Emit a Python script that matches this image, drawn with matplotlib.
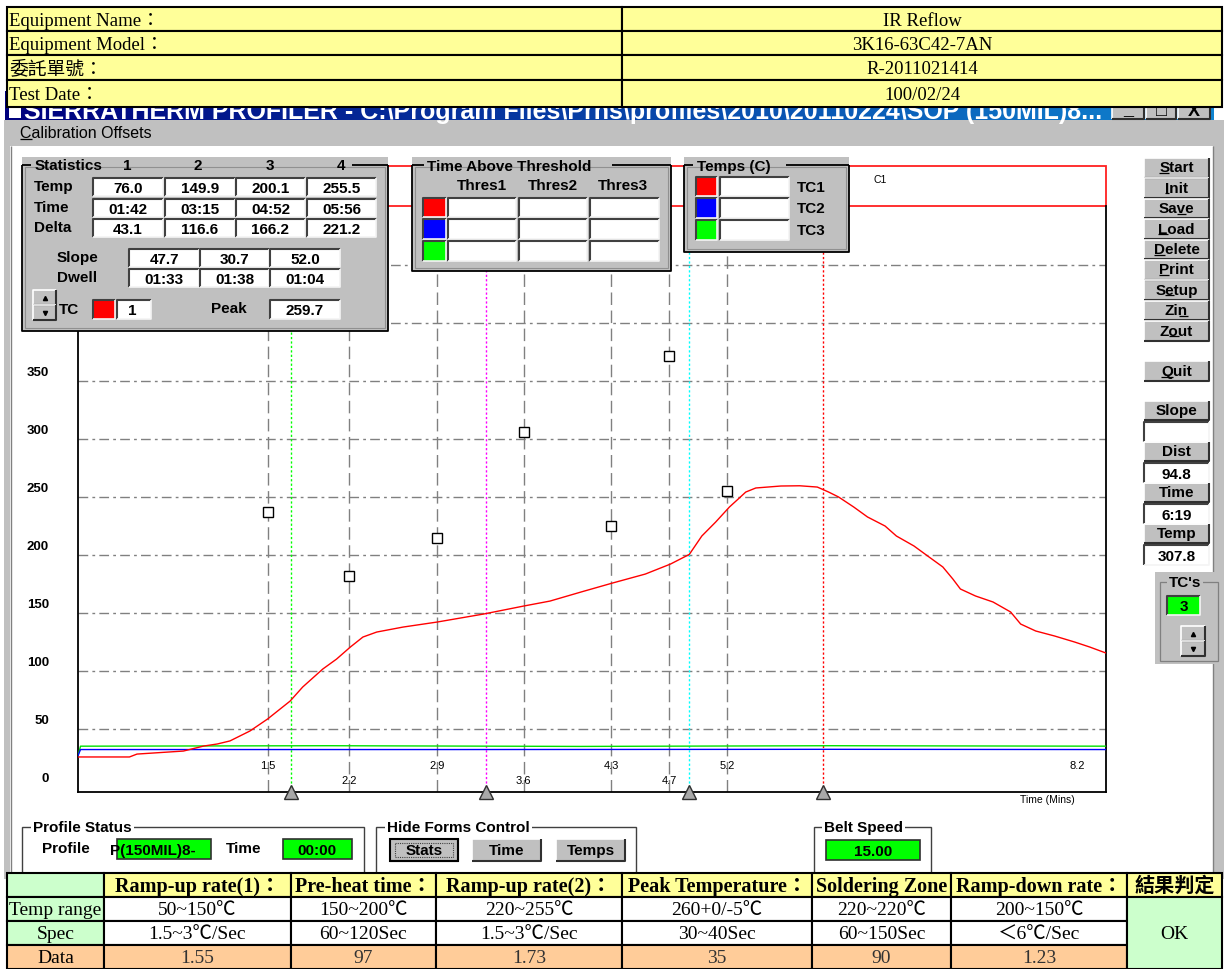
import matplotlib
matplotlib.use("Agg")
import numpy as np
import matplotlib.pyplot as plt
from matplotlib.patches import Rectangle
from matplotlib.colors import LinearSegmentedColormap
from matplotlib.transforms import offset_copy

SANS = ["Liberation Sans", "DejaVu Sans"]
SERIF = ["Liberation Serif", "Noto Sans CJK TC", "DejaVu Sans"]
GRAY = "#c0c0c0"
UI = 11

# ---------------- data ----------------
# TC1 profile (minutes, deg C)
tc1_time = [0.00, 0.41, 0.47, 0.84, 1.00, 1.11, 1.21, 1.37, 1.51, 1.69,
            1.79, 1.95, 2.06, 2.17, 2.27, 2.38, 2.59, 2.86, 3.23, 3.55,
            3.76, 4.02, 4.26, 4.52, 4.72, 4.87, 4.97, 5.08, 5.19, 5.26,
            5.32, 5.40, 5.60, 5.75, 5.89, 5.98, 6.06, 6.18, 6.29, 6.43,
            6.52, 6.66, 6.77, 6.89, 6.97, 7.03, 7.15, 7.29, 7.43, 7.51,
            7.63, 7.78, 7.94, 8.06, 8.19]
tc1_temp = [25.9, 25.9, 28.4, 31.0, 35.3, 37.1, 39.7, 48.3, 58.6, 74.1,
            86.2, 101.7, 110.3, 120.7, 129.3, 133.6, 137.9, 142.2, 149.1, 156.0,
            160.3, 168.5, 175.9, 183.6, 192.2, 200.5, 216.4, 228.4, 241.4, 248.3,
            254.3, 257.8, 259.5, 259.7, 258.6, 254.3, 250.0, 241.4, 232.8, 225.0,
            216.4, 207.8, 199.1, 189.7, 179.3, 170.7, 164.7, 159.5, 150.9, 140.5,
            134.5, 130.2, 125.0, 120.7, 115.5]
tc2_time = [0.0, 0.02, 3.0, 6.0, 8.19]
tc2_temp = [27.0, 32.3, 32.3, 32.5, 32.3]
tc3_time = [0.0, 0.02, 2.0, 4.0, 6.0, 8.19]
tc3_temp = [27.0, 35.2, 35.6, 35.0, 35.6, 35.2]

zone_times = [1.51, 2.16, 2.86, 3.55, 4.25, 4.71, 5.17]
zone_labels = ["1.5", "2.2", "2.9", "3.6", "4.3", "4.7", "5.2"]
zone_setpoints = [237, 182, 215, 306, 225, 372, 255]
end_time, end_label = 7.96, "8.2"

temp_ticks = [0, 50, 100, 150, 200, 250, 300, 350, 400, 450]
grid_levels = [50, 100, 150, 200, 250, 300, 350, 400, 450]

stat_temp = ["76.0", "149.9", "200.1", "255.5"]
stat_time = ["01:42", "03:15", "04:52", "05:56"]
stat_delta = ["43.1", "116.6", "166.2", "221.2"]
stat_slope = ["47.7", "30.7", "52.0"]
stat_dwell = ["01:33", "01:38", "01:04"]
stat_colors = ["#00ff00", "#ff00ff", "#00ffff", "#ff0000"]
peak_temp = "259.7"
tc_colors = ["#ff0000", "#0000ff", "#00ff00"]

info_labels = ["Equipment Name：", "Equipment Model：", "委託單號：", "Test Date："]
info_values = ["IR Reflow", "3K16-63C42-7AN", "R-2011021414", "100/02/24"]

spec_headers = ["Ramp-up rate(1)：", "Pre-heat time：", "Ramp-up rate(2)：",
                "Peak Temperature：", "Soldering Zone", "Ramp-down rate："]
spec_range = ["50~150℃", "150~200℃", "220~255℃", "260+0/-5℃", "220~220℃", "200~150℃"]
spec_limit = ["1.5~3℃/Sec", "60~120Sec", "1.5~3℃/Sec", "30~40Sec", "60~150Sec", "＜6℃/Sec"]
spec_data = ["1.55", "97", "1.73", "35", "90", "1.23"]
verdict = "OK"

side_buttons = [("", "S", "tart"), ("", "I", "nit"), ("Sa", "v", "e"), ("", "L", "oad"),
                ("", "D", "elete"), ("", "P", "rint"), ("S", "e", "tup"), ("Zi", "n", ""),
                ("Z", "o", "ut")]
readouts = [("Slope", ""), ("Dist", "94.8"), ("Time", "6:19"), ("Temp", "307.8")]


def minutes(s):
    m, sec = s.split(":")
    return int(m) + int(sec) / 60


# ---------------- figure / axes ----------------
W, H = 1224, 970
fig = plt.figure(figsize=(W / 100, H / 100), dpi=100, facecolor="white")
renderer = fig.canvas.get_renderer()


def pixel_axes(z):
    a = fig.add_axes([0, 0, 1, 1])
    a.set_xlim(0, W)
    a.set_ylim(H, 0)
    a.axis("off")
    a.set_zorder(z)
    return a


bg = pixel_axes(0)
ax = fig.add_axes([78 / W, 1 - 793 / H, (1106 - 78) / W, (793 - 207) / H])
ax.set_zorder(1)
ax.set_facecolor("none")
fg = pixel_axes(2)


def rect(a, x0, y0, x1, y1, fc="none", ec="none", lw=1.0, z=2):
    p = Rectangle((x0, y0), x1 - x0, y1 - y0, facecolor=fc, edgecolor=ec, linewidth=lw, zorder=z)
    a.add_patch(p)
    return p


def line(a, xs, ys, c, lw=1.0, z=3, **kw):
    a.plot(xs, ys, color=c, lw=lw, zorder=z, solid_capstyle="butt", **kw)


def txt(a, x, y, s, size=UI, ha="center", weight="bold", color="black", family=SANS, z=6):
    return a.text(x, y, s, ha=ha, va="center", fontsize=size, fontweight=weight,
                  color=color, family=family, zorder=z)


def width(s, size, weight):
    t = fig.text(0, 0, s, fontsize=size, fontweight=weight, family=SANS)
    w = t.get_window_extent(renderer=renderer).width
    t.remove()
    return w


def utxt(a, x, y, pre, ch, post, size=UI, ha="center", weight="bold"):
    full = pre + ch + post
    txt(a, x, y, full, size, ha, weight)
    wf = width(full, size, weight)
    wp = width(pre, size, weight) if pre else 0
    wc = width(pre + ch, size, weight)
    left = x - wf / 2 if ha == "center" else x
    line(a, [left + wp, left + wc], [y + 5.5, y + 5.5], "black", 0.9, 7)


def sunken(a, x0, y0, x1, y1, fc="white", z=3):
    rect(a, x0, y0, x1, y1, fc=fc, z=z)
    line(a, [x0, x0, x1], [y1, y0, y0], "#404040", 1.5, z + 0.1)
    line(a, [x0, x1, x1], [y1, y1, y0], "#f4f4f4", 1.2, z + 0.1)


def raised(a, x0, y0, x1, y1, fc=GRAY, z=3):
    rect(a, x0, y0, x1, y1, fc=fc, z=z)
    line(a, [x0, x0, x1], [y1, y0, y0], "#ffffff", 1.2, z + 0.1)
    line(a, [x0, x1, x1], [y1, y1, y0], "#303030", 1.5, z + 0.1)


def panel(a, x0, y0, x1, y1, gap0, gap1):
    rect(a, x0, y0, x1, y1, fc=GRAY, z=1)
    top = y0 + 8
    line(a, [x0, x0, x1, x1], [top, y1, y1, top], "black", 1.3, 2)
    line(a, [x0, gap0], [top, top], "black", 1.3, 2)
    line(a, [gap1, x1], [top, top], "black", 1.3, 2)
    rect(a, x0 + 3, top + 2, x1 - 3, y1 - 3, ec="#909090", lw=0.8, z=1.5)


def group(a, x0, y0, x1, y1, title, tx, fc="white"):
    rect(a, x0, y0, x1, y1, ec="#404040", lw=1.0, z=2)
    a.text(tx, y0, title, ha="left", va="center", fontsize=UI, fontweight="bold", family=SANS,
           zorder=4, bbox=dict(boxstyle="square,pad=0.15", fc=fc, ec="none"))


def spinner(a, x0, y0, x1, y1):
    ym = (y0 + y1) / 2
    raised(a, x0, y0, x1, ym, z=4)
    raised(a, x0, ym, x1, y1, z=4)
    a.plot([(x0 + x1) / 2], [(y0 + ym) / 2], marker="^", ms=3, color="black", zorder=6)
    a.plot([(x0 + x1) / 2], [(ym + y1) / 2], marker="v", ms=3, color="black", zorder=6)


def cell(a, x0, y0, x1, y1, fc, text="", ha="center", weight="normal", size=14, color="black"):
    r = rect(a, x0, y0, x1, y1, fc=fc, ec="black", lw=1.5, z=8)
    if text:
        tx = (x0 + x1) / 2 if ha == "center" else x0 + 2
        t = a.text(tx, (y0 + y1) / 2 + 1, text, ha=ha, va="center", fontsize=size, fontweight=weight,
                   family=SERIF, color=color, zorder=9)
        t.set_clip_path(r)


# ---------------- window chrome ----------------
grad = LinearSegmentedColormap.from_list("title", ["#00007e", "#1084d0"])
bg.imshow(np.linspace(0, 1, 256).reshape(1, -1), cmap=grad, extent=(5, 1214, 121, 92), aspect="auto", zorder=1)
bg.set_xlim(0, W)
bg.set_ylim(H, 0)
tb = rect(bg, 5, 92, 1214, 121, z=0.5)
title = bg.text(24, 119, "SIERRATHERM PROFILER - C:\\Program Files\\Prns\\profiles\\2010\\20110224\\SOP (150MIL)8...",
                color="white", fontsize=18, fontweight="bold", family=SANS, va="baseline", zorder=2)
title.set_clip_path(tb)
rect(bg, 9, 100, 21, 119, fc="white", z=2)
for x0, x1, sym in [(1112, 1144, "_"), (1146, 1176, "□"), (1178, 1210, "X")]:
    raised(bg, x0, 97, x1, 120, z=3)
    txt(bg, (x0 + x1) / 2, 111, sym, 13, z=4)
rect(bg, 5, 121, 1214, 147, fc=GRAY, z=1)
utxt(bg, 20, 134, "", "C", "alibration Offsets", size=11.5, ha="left", weight="normal")
rect(bg, 4, 121, 10, 880, fc=GRAY, z=1)
line(bg, [11, 11], [147, 880], "#808080", 1.0, 2)
rect(bg, 1213, 121, 1224, 880, fc=GRAY, z=1)
line(bg, [1213, 1213], [147, 880], "#808080", 1.0, 2)

# C1 legend strip over the plot
rect(bg, 78, 167, 1106, 207, fc="white", ec="#ff2020", lw=1.3, z=2)
txt(bg, 880, 180, "C1", 7.5, weight="normal")
txt(bg, 1047, 800, "Time (Mins)", 7.5, weight="normal")

# ---------------- plot ----------------
ax.set_xlim(0, 8.19)
ax.set_ylim(-4.3, 500.9)
ax.set_xticks([])
ax.set_yticks([])
ax.spines["top"].set_visible(False)
for s in ["left", "bottom", "right"]:
    ax.spines[s].set_linewidth(1.3)

for v in grid_levels:
    ax.axhline(v, color="#808080", lw=1.0, ls=(0, (7, 3, 2, 3)), zorder=1)
for t in zone_times:
    ax.axvline(t, color="#808080", lw=1.0, ls=(0, (9, 4)), zorder=1)

stat_t = [minutes(s) for s in stat_time]
for t, c in zip(stat_t, stat_colors):
    ax.axvline(t, color=c, lw=1.0, ls=(0, (1.6, 1.6)), zorder=2)
ax.plot(stat_t, [0] * len(stat_t), transform=ax.get_xaxis_transform(), ls="none", marker="^",
        ms=10, mfc="#a8a8a8", mec="#303030", mew=1.0, clip_on=False, zorder=5)

ax.plot(tc3_time, tc3_temp, color="#00e000", lw=1.0, zorder=3)
ax.plot(tc2_time, tc2_temp, color="#0000ff", lw=1.0, zorder=3)
ax.plot(tc1_time, tc1_temp, color="#ff0000", lw=1.0, zorder=4)
ax.plot(zone_times, zone_setpoints, ls="none", marker="s", ms=6.5, mfc="white", mec="black",
        mew=1.0, zorder=5)

ylab = offset_copy(ax.get_yaxis_transform(), fig=fig, x=-29, y=9, units="dots")
for v in temp_ticks:
    ax.text(0, v, str(v), transform=ylab, ha="right", va="center", fontsize=9.5,
            fontweight="bold", family=SANS, clip_on=False)
xl_times = zone_times + [end_time]
xl_text = zone_labels + [end_label]
for i, (t, s) in enumerate(zip(xl_times, xl_text)):
    dy = 27 if (i % 2 == 0 or i == len(xl_times) - 1) else 12
    tr = offset_copy(ax.get_xaxis_transform(), fig=fig, x=0, y=dy, units="dots")
    ax.text(t, 0, s, transform=tr, ha="center", va="center", fontsize=8, family=SANS, clip_on=False)

# ---------------- statistics panel ----------------
panel(fg, 22, 158, 388, 332, 31, 352)
txt(fg, 35, 166, "Statistics", ha="left")
for x, n in zip([127, 198, 270, 341], ["1", "2", "3", "4"]):
    txt(fg, x, 166, n)
cols4 = [(93, 163), (165, 235), (236, 305), (307, 376)]
for (lab, vals), (y0, y1) in zip([("Temp", stat_temp), ("Time", stat_time), ("Delta", stat_delta)],
                                 [(179, 197), (200, 218), (220, 238)]):
    txt(fg, 34, y0 + 8, lab, ha="left")
    for (x0, x1), v in zip(cols4, vals):
        sunken(fg, x0, y0, x1, y1)
        txt(fg, (x0 + x1) / 2, (y0 + y1) / 2 + 1, v)
cols3 = [(129, 199), (200, 269), (270, 340)]
for (lab, vals), (y0, y1) in zip([("Slope", stat_slope), ("Dwell", stat_dwell)], [(250, 268), (270, 288)]):
    txt(fg, 57, y0 + 8, lab, ha="left")
    for (x0, x1), v in zip(cols3, vals):
        sunken(fg, x0, y0, x1, y1)
        txt(fg, (x0 + x1) / 2, (y0 + y1) / 2 + 1, v)
spinner(fg, 33, 291, 56, 321)
txt(fg, 59, 310, "TC", ha="left")
sunken(fg, 93, 301, 115, 320, fc=tc_colors[0])
sunken(fg, 117, 301, 151, 320)
txt(fg, 128, 311, "1", ha="left")
txt(fg, 211, 309, "Peak", ha="left")
sunken(fg, 270, 301, 340, 320)
txt(fg, 305, 311, peak_temp)

# ---------------- time above threshold ----------------
panel(fg, 412, 158, 671, 272, 424, 612)
txt(fg, 427, 167, "Time Above Threshold", ha="left")
for x, s in zip([482, 553, 623], ["Thres1", "Thres2", "Thres3"]):
    txt(fg, x, 186, s)
for c, (y0, y1) in zip(tc_colors, [(199, 218), (220, 240), (242, 262)]):
    sunken(fg, 423, y0, 446, y1, fc=c)
    for x0, x1 in [(448, 516), (519, 587), (590, 659)]:
        sunken(fg, x0, y0, x1, y1)

# ---------------- temps panel ----------------
panel(fg, 684, 158, 849, 253, 693, 786)
txt(fg, 697, 167, "Temps (C)", ha="left")
for i, (c, (y0, y1)) in enumerate(zip(tc_colors, [(178, 197), (199, 219), (221, 241)])):
    sunken(fg, 696, y0, 717, y1, fc=c)
    sunken(fg, 720, y0, 789, y1)
    txt(fg, 797, (y0 + y1) / 2, "TC%d" % (i + 1), ha="left")

# ---------------- right button column ----------------
bx0, bx1 = 1144, 1209
for i, (pre, ch, post) in enumerate(side_buttons):
    y0 = 159 + i * 20.4
    raised(fg, bx0, y0, bx1, y0 + 19.5)
    utxt(fg, (bx0 + bx1) / 2, y0 + 9.5, pre, ch, post)
raised(fg, bx0, 362, bx1, 382)
utxt(fg, (bx0 + bx1) / 2, 372, "", "Q", "uit")
for i, (lab, val) in enumerate(readouts):
    y0 = 402 + i * 41
    raised(fg, bx0, y0, bx1, y0 + 19)
    txt(fg, (bx0 + bx1) / 2, y0 + 9, lab)
    sunken(fg, bx0, y0 + 21, bx1, y0 + 41)
    txt(fg, (bx0 + bx1) / 2, y0 + 32, val)
rect(fg, 1155, 573, 1222, 665, fc=GRAY, z=1)
rect(fg, 1160, 583, 1218, 662, ec="#808080", lw=0.9, z=2)
fg.text(1185, 583, "TC's", ha="center", va="center", fontsize=UI, fontweight="bold", family=SANS,
        zorder=4, bbox=dict(boxstyle="square,pad=0.1", fc=GRAY, ec="none"))
sunken(fg, 1167, 597, 1200, 616, fc="#00ff00")
txt(fg, 1184, 607, "3")
spinner(fg, 1181, 627, 1205, 657)

# ---------------- bottom forms ----------------
group(fg, 22, 828, 364, 890, "Profile Status", 33)
txt(fg, 42, 849, "Profile", ha="left")
pbox = rect(fg, 117, 840, 211, 860, fc="#00ff00", ec="#303030", lw=1.2, z=3)
pt = fg.text(110, 851, "P(150MIL)8-", ha="left", va="center", fontsize=UI, fontweight="bold",
             family=SANS, zorder=4)
pt.set_clip_path(pbox)
txt(fg, 226, 849, "Time", ha="left")
rect(fg, 283, 840, 352, 860, fc="#00ff00", ec="#303030", lw=1.2, z=3)
txt(fg, 317, 851, "00:00")

group(fg, 376, 828, 636, 890, "Hide Forms Control", 387)
for (x0, x1), s in zip([(390, 458), (472, 541), (556, 625)], ["Stats", "Time", "Temps"]):
    raised(fg, x0, 840, x1, 862)
    txt(fg, (x0 + x1) / 2, 851, s)
rect(fg, 390, 840, 458, 862, ec="black", lw=1.5, z=5)
rect(fg, 395, 844, 453, 858, ec="#404040", lw=0.8, z=5).set_linestyle((0, (1, 1)))

group(fg, 814, 828, 931, 890, "Belt Speed", 824)
rect(fg, 826, 841, 920, 861, fc="#00ff00", ec="#303030", lw=1.2, z=3)
txt(fg, 873, 852, "15.00")

# ---------------- top info table ----------------
rows = [8, 32, 56, 81, 108]
for i, (lab, val) in enumerate(zip(info_labels, info_values)):
    cell(fg, 7, rows[i], 622, rows[i + 1], "#ffff99", lab, ha="left", size=13.5)
    cell(fg, 622, rows[i], 1222, rows[i + 1], "#ffff99", val, size=13.5)

# ---------------- bottom spec table ----------------
cx = [7, 104, 291, 436, 622, 812, 951, 1127, 1222]
ry = [874, 898, 922, 946, 970]
cell(fg, cx[0], ry[0], cx[1], ry[1], "#ccffcc")
for j, h in enumerate(spec_headers):
    cell(fg, cx[j + 1], ry[0], cx[j + 2], ry[1], "#ffff99", h, weight="bold", size=14.5)
cell(fg, cx[7], ry[0], cx[8], ry[1], "#ffff99", "結果判定", weight="bold", size=14.5)
cell(fg, cx[0], ry[1], cx[1], ry[2], "#ccffcc", "Temp range", ha="left")
cell(fg, cx[0], ry[2], cx[1], ry[3], "#ccffcc", "Spec")
cell(fg, cx[0], ry[3], cx[1], ry[4], "#ffcc99", "Data")
for j in range(6):
    cell(fg, cx[j + 1], ry[1], cx[j + 2], ry[2], "white", spec_range[j])
    cell(fg, cx[j + 1], ry[2], cx[j + 2], ry[3], "white", spec_limit[j])
    cell(fg, cx[j + 1], ry[3], cx[j + 2], ry[4], "#ffcc99", spec_data[j], color="#333333")
cell(fg, cx[7], ry[1], cx[8], ry[4], "#ccffcc", verdict)

fig.savefig("out.png", dpi=100)
